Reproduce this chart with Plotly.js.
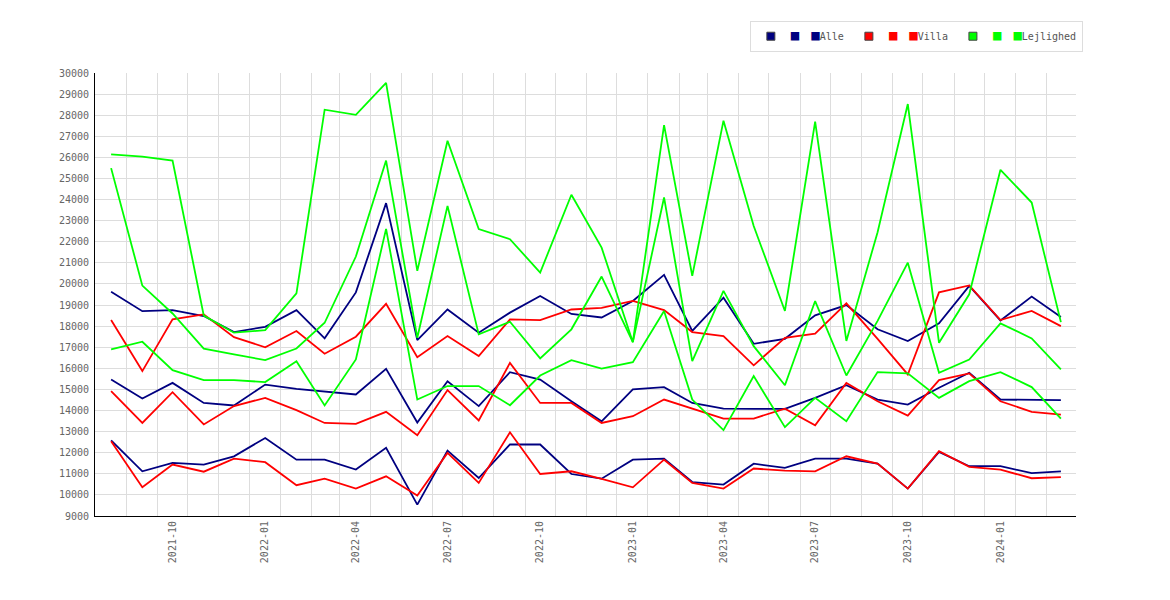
<!DOCTYPE html>
<html>
<head>
<meta charset="utf-8">
<script src="https://cdn.plot.ly/plotly-3.0.1.min.js"></script>
<style>
    html, body { margin: 0; padding: 0; background: #fff; }
    #chart { width: 1170px; height: 600px; }
</style>
</head>
<body>
<div id="chart"></div>
<script>
// === ДАННЫЕ ===
const months = ['2021-08', '2021-09', '2021-10', '2021-11', '2021-12',
    '2022-01', '2022-02', '2022-03', '2022-04', '2022-05', '2022-06',
    '2022-07', '2022-08', '2022-09', '2022-10', '2022-11', '2022-12',
    '2023-01', '2023-02', '2023-03', '2023-04', '2023-05', '2023-06',
    '2023-07', '2023-08', '2023-09', '2023-10', '2023-11', '2023-12',
    '2024-01', '2024-02', '2024-03'];

// Alle
const alleHigh = [19630, 18710, 18760, 18480, 17720, 17970, 18760, 17420, 19600, 23830,
    17340, 18790, 17690, 18640, 19430, 18580, 18410, 19190, 20430, 17770,
    19350, 17160, 17400, 18510, 19000, 17850, 17290, 18130, 19910, 18270, 19400, 18430];
const alleMid = [15470, 14570, 15310, 14360, 14240, 15230, 15030, 14890, 14760, 15980,
    13430, 15390, 14210, 15820, 15470, 14440, 13490, 15000, 15110, 14360,
    14090, 14080, 14080, 14600, 15200, 14520, 14280, 15080, 15790, 14520, 14520, 14490];
const alleLow = [12590, 11120, 11520, 11440, 11830, 12700, 11670, 11670, 11200, 12230,
    9540, 12100, 10800, 12390, 12390, 10990, 10770, 11670, 11720, 10610,
    10490, 11480, 11280, 11720, 11720, 11480, 10300, 12040, 11360, 11360, 11030, 11120];

// Villa
const villaHigh = [18290, 15870, 18320, 18560, 17480, 17000, 17770, 16690, 17500, 19060,
    16530, 17530, 16580, 18320, 18290, 18790, 18870, 19200, 18760, 17720,
    17530, 16140, 17450, 17640, 19080, 17400, 15710, 19600, 19930, 18290, 18720, 18000];
const villaMid = [14920, 13410, 14870, 13340, 14210, 14600, 14020, 13410, 13370, 13940,
    12830, 14970, 13530, 16260, 14360, 14360, 13410, 13730, 14520, 14090,
    13620, 13620, 14090, 13300, 15310, 14440, 13760, 15440, 15760, 14440, 13940, 13810];
const villaLow = [12540, 10360, 11440, 11100, 11720, 11550, 10460, 10770, 10300, 10880,
    9970, 11990, 10570, 12970, 10990, 11120, 10760, 10360, 11670, 10570,
    10300, 11250, 11150, 11120, 11830, 11480, 10300, 12070, 11330, 11200, 10790, 10840];

// Lejlighed
const lejlHigh = [26140, 26040, 25850, 18500, 17690, 17810, 19550, 28260, 28020, 29530,
    20620, 26790, 22600, 22120, 20540, 24230, 21720, 17240, 27530, 20380,
    27740, 22750, 18720, 27690, 17300, 22450, 28530, 17210, 19510, 25410, 23860, 18190];
const lejlMid = [25490, 19920, 18600, 16930, 16660, 16390, 16940, 18160, 21300, 25850,
    17450, 23700, 17610, 18210, 16470, 17850, 20350, 17240, 24100, 16340,
    19670, 17050, 15200, 19190, 15660, 18250, 21010, 15790, 16420, 18130, 17420, 15950];
const lejlLow = [16900, 17260, 15910, 15440, 15440, 15350, 16340, 14240, 16420, 22610,
    14520, 15160, 15160, 14250, 15660, 16390, 15990, 16290, 18720, 14520,
    13070, 15630, 13210, 14600, 13490, 15820, 15760, 14600, 15390, 15820, 15110, 13620];

const groupNames = ['Alle', 'Villa', 'Lejlighed'];
const groupColors = ['#000080', '#ff0000', '#00ff00'];

// === ПОСТРОЕНИЕ ГРАФИКА ===
function buildChart() {
    const groups = [
        [alleHigh, alleMid, alleLow],
        [villaHigh, villaMid, villaLow],
        [lejlHigh, lejlMid, lejlLow]
    ];
    const traces = [];

    groups.forEach((series, g) => {
        series.forEach(values => {
            traces.push({
                x: months,
                y: values,
                type: 'scatter',
                mode: 'lines',
                line: { color: groupColors[g], width: 1.8 },
                showlegend: false,
                hoverinfo: 'x+y'
            });
        });
    });

    // Легенда: квадрат-маркер и еще два квадрата в тексте
    groupNames.forEach((name, g) => {
        const sq = `<span style="color:${groupColors[g]};font-size:14px">■</span>`;
        traces.push({
            x: [null],
            y: [null],
            type: 'scatter',
            mode: 'markers',
            name: sq + '\u00a0\u00a0' + sq + name,
            marker: {
                symbol: 'square',
                size: 8,
                color: groupColors[g],
                line: { color: '#444', width: 1 }
            },
            showlegend: true
        });
    });

    const layout = {
        width: 1170,
        height: 600,
        margin: { l: 95, r: 94, t: 73, b: 84 },
        paper_bgcolor: '#fff',
        plot_bgcolor: '#fff',
        font: { family: 'DejaVu Sans Mono, monospace', size: 10, color: '#555' },
        xaxis: {
            type: 'date',
            range: ['2021-07-16', '2024-03-16'],
            tick0: '2021-01-01',
            dtick: 'M3',
            tickformat: '%Y-%m',
            tickangle: -90,
            tickfont: { size: 10, color: '#666' },
            ticks: '',
            showgrid: false,
            zeroline: false,
            showline: true,
            linecolor: '#000',
            linewidth: 1,
            minor: {
                tick0: '2021-07-16',
                dtick: 'M1',
                showgrid: true,
                gridcolor: '#dddddd',
                gridwidth: 1,
                ticks: ''
            }
        },
        yaxis: {
            range: [9000, 30000],
            dtick: 1000,
            tickformat: 'd',
            tickfont: { size: 10, color: '#666' },
            ticks: '',
            ticklabelstandoff: 3,
            gridcolor: '#dddddd',
            gridwidth: 1,
            zeroline: false,
            showline: true,
            linecolor: '#000',
            linewidth: 1
        },
        showlegend: true,
        legend: {
            orientation: 'h',
            x: 1.007,
            xanchor: 'right',
            y: 1.118,
            yanchor: 'top',
            bgcolor: '#fff',
            bordercolor: '#dddddd',
            borderwidth: 1,
            itemwidth: 30,
            font: { family: 'DejaVu Sans Mono, monospace', size: 10, color: '#555' }
        }
    };

    Plotly.newPlot('chart', traces, layout, { displayModeBar: false, staticPlot: true });
}

document.addEventListener('DOMContentLoaded', buildChart);
</script>
</body>
</html>
